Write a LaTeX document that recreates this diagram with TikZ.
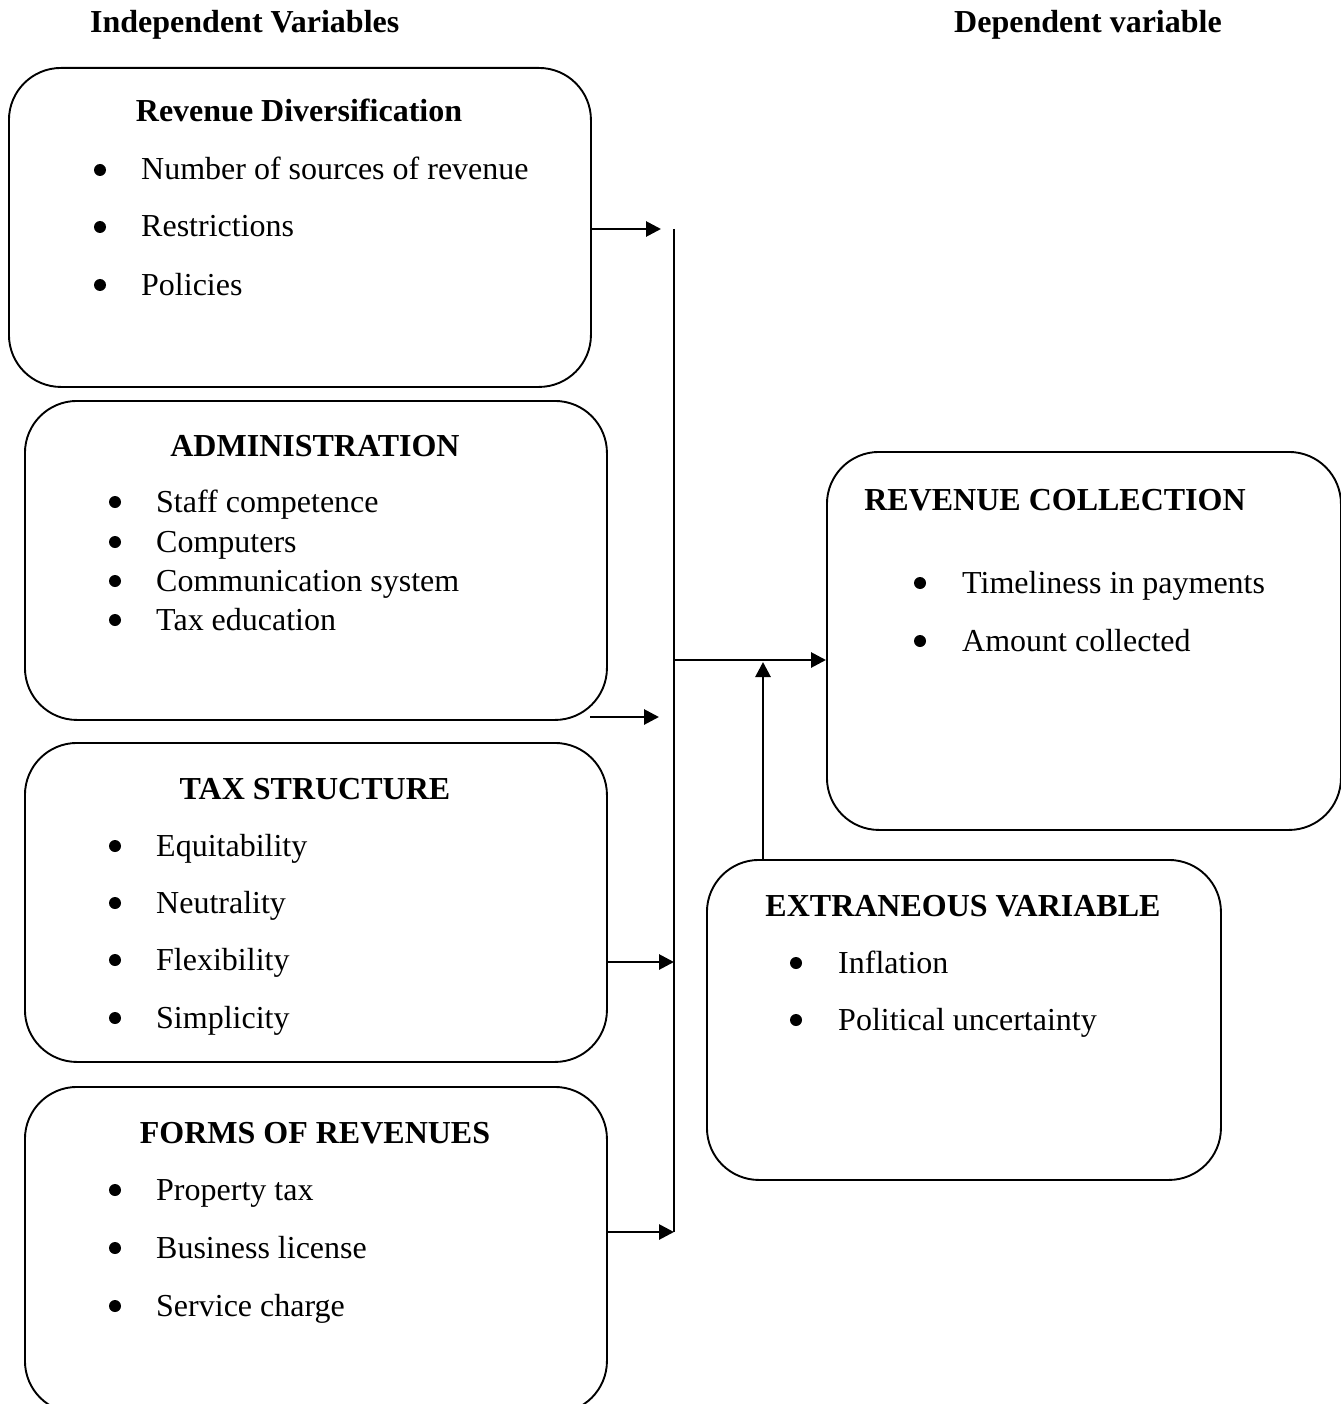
\documentclass[tikz,border=0pt]{standalone}
\usepackage{fontspec}
\setmainfont{Liberation Serif}
\usetikzlibrary{arrows.meta}
\begin{document}
\begin{tikzpicture}[x=1pt,y=-1pt,
  box/.style={draw, line width=1.9pt, rounded corners=52pt, inner sep=0pt, anchor=north west},
  ttl/.style={font=\bfseries\fontsize{32}{38}\selectfont, anchor=base, inner sep=0pt},
  hdr/.style={font=\bfseries\fontsize{32}{38}\selectfont, anchor=base west, inner sep=0pt},
  itm/.style={font=\fontsize{32}{38}\selectfont, anchor=base west, inner sep=0pt},
  bul/.style={circle, fill=black, draw=none, inner sep=0pt, minimum size=12pt},
  arr/.style={line width=2.8pt, -{Triangle[length=15pt,width=15pt]}},
  bus/.style={line width=2.6pt}]
\useasboundingbox (0,0) rectangle (1340,1404);

% headers
\node[hdr] (hind) at (90,33) {Independent Variables};
\node[hdr] (hdep) at (954,33) {Dependent variable};

% boxes
\node[box, minimum width=582pt, minimum height=319pt] (rd) at (8,67) {};
\node[box, minimum width=582pt, minimum height=319pt] (ad) at (24,400) {};
\node[box, minimum width=582pt, minimum height=319pt] (ts) at (24,742) {};
\node[box, minimum width=582pt, minimum height=326pt] (fr) at (24,1086) {};
\node[box, minimum width=514pt, minimum height=378pt] (rc) at (826,451) {};
\node[box, minimum width=514pt, minimum height=320pt] (ev) at (706,859) {};

% Revenue Diversification
\node[ttl] (rdt) at (299,122) {Revenue Diversification};
\foreach \y/\t [count=\i] in {180/Number of sources of revenue,237/Restrictions,295/Policies}{
  \node[bul] (rdb\i) at (100,\y-10) {};
  \node[itm] (rdi\i) at (141,\y) {\t};
}

% Administration
\node[ttl] (adt) at (315,456) {ADMINISTRATION};
\foreach \y/\t [count=\i] in {512/Staff competence,552/Computers,591/Communication system,630/Tax education}{
  \node[bul] (adb\i) at (115,\y-10) {};
  \node[itm] (adi\i) at (156,\y) {\t};
}

% Tax structure
\node[ttl] (tst) at (315,799) {TAX STRUCTURE};
\foreach \y/\t [count=\i] in {856/Equitability,913/Neutrality,970/Flexibility,1028/Simplicity}{
  \node[bul] (tsb\i) at (115,\y-10) {};
  \node[itm] (tsi\i) at (156,\y) {\t};
}

% Forms of revenues
\node[ttl] (frt) at (315,1143) {FORMS OF REVENUES};
\foreach \y/\t [count=\i] in {1200/Property tax,1258/Business license,1316/Service charge}{
  \node[bul] (frb\i) at (115,\y-10) {};
  \node[itm] (fri\i) at (156,\y) {\t};
}

% Revenue collection
\node[ttl] (rct) at (1055,510) {REVENUE COLLECTION};
\foreach \y/\t [count=\i] in {593/Timeliness in payments,651/Amount collected}{
  \node[bul] (rcb\i) at (920,\y-10) {};
  \node[itm] (rci\i) at (962,\y) {\t};
}

% Extraneous variable
\node[ttl] (evt) at (963,916) {EXTRANEOUS VARIABLE};
\foreach \y/\t [count=\i] in {973/Inflation,1030/Political uncertainty}{
  \node[bul] (evb\i) at (796,\y-10) {};
  \node[itm] (evi\i) at (838,\y) {\t};
}

% bus line and junctions
\coordinate (bustop) at (674,229);
\coordinate (busbot) at (674,1232);
\coordinate (j) at (674,660);
\coordinate (jup) at (763,662);
\coordinate (s1) at (592,229);
\coordinate (e1) at (661,229);
\coordinate (s2) at (590,717);
\coordinate (e2) at (659,717);
\draw[bus] (bustop) -- (busbot);

% arrows
\draw[arr] (s1) -- (e1);
\draw[arr] (s2) -- (e2);
\draw[arr] (ts.east |- 0,962) -- (674,962);
\draw[arr] (608,1232) -- (busbot);
\draw[arr] (j) -- (rc.west |- j);
\draw[arr] (ev.north -| jup) -- (jup);
\end{tikzpicture}
\end{document}
